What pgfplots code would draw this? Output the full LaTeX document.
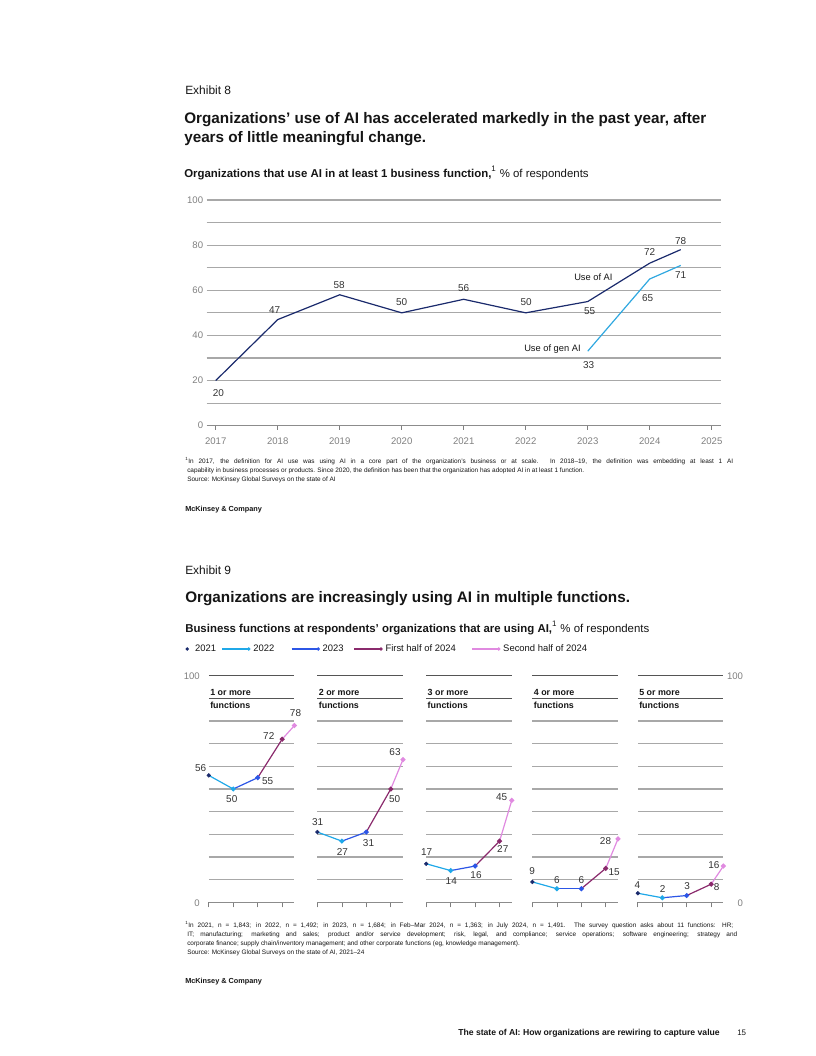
\documentclass[border=0pt]{standalone}
\usepackage{fontspec}
\setmainfont{Liberation Sans}
\usepackage{pgfplots}
\pgfplotsset{compat=1.18}
\definecolor{navy}{HTML}{1A2A6C}
\definecolor{genai}{HTML}{30A8E0}
\definecolor{c22}{HTML}{1FA8E8}
\definecolor{c23}{HTML}{2C56E6}
\definecolor{c24a}{HTML}{8A2A6C}
\definecolor{c24b}{HTML}{E08AE0}
\definecolor{gridc}{HTML}{A8A8A8}
\definecolor{darkl}{HTML}{555555}
\definecolor{axisc}{HTML}{8C8C8C}
\definecolor{tickc}{HTML}{7F7F7F}
\definecolor{labc}{HTML}{333333}
\definecolor{txtc}{HTML}{151515}
\newcommand\fsz[1]{\fontsize{#1}{#1}\selectfont}
\newcommand\lbl[4]{\node[lab, xshift=#3*0.75bp, yshift=#4*0.75bp] at (axis cs:#1) {#2};}
\tikzset{
  lab/.style={font=\fsz{7.5}, text=labc, inner sep=0pt, anchor=center},
  tx/.style={anchor=base west, inner sep=0pt, text=txtc},
  ptitle/.style={anchor=base west, inner sep=0pt, text=txtc, font=\bfseries\fsz{6.7}},
}
\pgfplotsset{
  /pgf/number format/assume math mode=true,
  panel/.style={anchor=south west, scale only axis, width=64.2bp, height=169.95bp,
    xmin=0, xmax=3.5, ymin=0, ymax=100, clip=false,
    axis x line*=bottom, axis y line*=left,
    x axis line style={-, draw=axisc, line width=0.5bp},
    y axis line style={draw=none},
    xtick={0,1,2,3}, xticklabels={},
    tick align=outside, major tick length=3.75bp,
    xtick style={draw=tickc, line width=0.5bp},
    ytick={10,20,...,80}, yticklabels={}, ytick style={draw=none},
    ymajorgrids, major grid style={draw=gridc, line width=0.9bp},
    extra y ticks={90,100}, extra y tick labels={},
    extra y tick style={ymajorgrids=true, major grid style={draw=darkl, line width=0.5bp}, major tick length=0pt},
  },
  seg/.style={line width=0.9bp, mark=*, mark size=1.4bp, mark indices={2}, forget plot},
}
\newcommand\panelplots[5]{%
  \addplot[c22, seg, mark options={draw=none, fill=c22}] coordinates {(0,#1)(1,#2)};
  \addplot[c23, seg, mark options={draw=none, fill=c23}] coordinates {(1,#2)(2,#3)};
  \addplot[c24a, seg, mark options={draw=none, fill=c24a}] coordinates {(2,#3)(3,#4)};
  \addplot[c24b, seg, mark options={draw=none, fill=c24b}] coordinates {(3,#4)(3.5,#5)};
  \addplot[navy, only marks, mark=*, mark size=1.4bp, mark options={draw=none, fill=navy}, forget plot] coordinates {(0,#1)};
}
\begin{document}
\begin{tikzpicture}
\useasboundingbox (0,0) rectangle (612bp,-792bp);

% ---------------- Exhibit 8 chart -----------------
\begin{axis}[
  at={(155.025bp,-319.275bp)}, anchor=south west, scale only axis,
  width=385.5bp, height=169.3bp, clip=false,
  xmin=2016.855, xmax=2025.145, ymin=0, ymax=100,
  axis x line*=bottom, axis y line*=left,
  x axis line style={-, draw=axisc, line width=0.5bp},
  y axis line style={draw=none},
  xtick={2017,2018,2019,2020,2021,2022,2023,2024,2025},
  xticklabels={2017,2018,2019,2020,2021,2022,2023,2024,2025},
  xtick style={draw=tickc, line width=0.5bp},
  tick align=outside, major tick length=3bp,
  ytick={10,20,...,100},
  yticklabels={,20,,40,,60,,80,,100},
  extra y ticks={0}, extra y tick labels={0},
  extra y tick style={ymajorgrids=false, major tick length=0pt, yticklabel style={xshift=-3bp}},
  ytick style={draw=none},
  ymajorgrids, major grid style={draw=gridc, line width=0.8bp},
  ticklabel style={font=\fsz{7.2}, text=tickc, inner sep=0pt},
  xticklabel style={anchor=north, yshift=-5.75bp},
  yticklabel style={anchor=east, xshift=0.5bp},
]
\addplot[navy, line width=0.9bp] coordinates {(2017,20)(2018,47)(2019,58)(2020,50)(2021,56)(2022,50)(2023,55)(2024,72)(2024.5,78)};
\addplot[genai, line width=0.9bp] coordinates {(2023,33)(2024,65)(2024.5,71)};
\lbl{2017,20}{20}{2.6}{-12.3}
\lbl{2018,47}{47}{-3}{10}
\lbl{2019,58}{58}{-0.5}{10}
\lbl{2020,50}{50}{0}{10.4}
\lbl{2021,56}{56}{0}{11}
\lbl{2022,50}{50}{0.5}{10.4}
\lbl{2023,55}{55}{2}{-10}
\lbl{2024,72}{72}{0}{10.7}
\lbl{2024.5,78}{78}{0}{9}
\lbl{2024.5,71}{71}{0}{-10}
\lbl{2024,65}{65}{-2}{-18.8}
\lbl{2023,33}{33}{1}{-13.6}
\end{axis}

% ---------------- Exhibit 9 panels -----------------
\begin{axis}[panel, at={(156.6bp,-676.725bp)},
  legend style={at={(-0.2745,1.1178)}, anchor=west, draw=none, fill=none,
    inner sep=0pt, outer sep=0pt, legend columns=5, font=\fsz{7.1}, text=txtc,
    /tikz/every even column/.append style={column sep=9.5bp},
    /tikz/every odd column/.append style={column sep=2bp},
    nodes={inner sep=0pt}},
  legend cell align=left]
\addlegendimage{legend image code/.code={\fill[navy, draw=none] (0bp,0bp) circle (1.4bp); \path[draw=none] (3bp,0bp) -- (4bp,0bp);}}
\addlegendentry{2021\kern-5.5bp}
\addlegendimage{legend image code/.code={\draw[c22, line width=0.9bp, -] (0bp,0bp) -- (20bp,0bp); \fill[c22, draw=none] (20bp,0bp) circle (1.4bp);}}
\addlegendentry{2022\kern3bp}
\addlegendimage{legend image code/.code={\draw[c23, line width=0.9bp, -] (0bp,0bp) -- (20bp,0bp); \fill[c23, draw=none] (20bp,0bp) circle (1.4bp);}}
\addlegendentry{2023\kern-2bp}
\addlegendimage{legend image code/.code={\draw[c24a, line width=0.9bp, -] (0bp,0bp) -- (20bp,0bp); \fill[c24a, draw=none] (20bp,0bp) circle (1.4bp);}}
\addlegendentry{First half of 2024\kern2.25bp}
\addlegendimage{legend image code/.code={\draw[c24b, line width=0.9bp, -] (0bp,0bp) -- (20bp,0bp); \fill[c24b, draw=none] (20bp,0bp) circle (1.4bp);}}
\addlegendentry{Second half of 2024}
\panelplots{56}{50}{55}{72}{78}
\lbl{0,56}{56}{-8.1}{7.7}
\lbl{1,50}{50}{-1.5}{-10.3}
\lbl{2,55}{55}{10}{-3.3}
\lbl{3,72}{72}{-13.4}{3.1}
\lbl{3.5,78}{78}{1.1}{12.2}
\node[ptitle, xshift=0.9bp, yshift=1.8bp] at (axis cs:0,90) {1 or more};
\node[ptitle, xshift=0.9bp, yshift=-7.4bp] at (axis cs:0,90) {functions};
\node[anchor=east, inner sep=0pt, font=\fsz{7.2}, text=tickc, xshift=-6.6bp] at (axis cs:0,100) {100};
\node[anchor=east, inner sep=0pt, font=\fsz{7.2}, text=tickc, xshift=-6.6bp, yshift=-0.75bp] at (axis cs:0,0) {0};
\end{axis}

\begin{axis}[panel, at={(238.05bp,-676.725bp)}]
\panelplots{31}{27}{31}{50}{63}
\lbl{0,31}{31}{0.3}{9.7}
\lbl{1,27}{27}{0.6}{-10.7}
\lbl{2,31}{31}{2.2}{-10.7}
\lbl{3,50}{50}{3.9}{-10.3}
\lbl{3.5,63}{63}{-8}{7}
\node[ptitle, xshift=0.9bp, yshift=1.8bp] at (axis cs:0,90) {2 or more};
\node[ptitle, xshift=0.9bp, yshift=-7.4bp] at (axis cs:0,90) {functions};
\end{axis}

\begin{axis}[panel, at={(319.65bp,-676.725bp)}]
\panelplots{17}{14}{16}{27}{45}
\lbl{0,17}{17}{0.5}{11.3}
\lbl{1,14}{14}{0.6}{-10.1}
\lbl{2,16}{16}{0.9}{-9.3}
\lbl{3,27}{27}{3.2}{-7.6}
\lbl{3.5,45}{45}{-10.1}{3.6}
\node[ptitle, xshift=0.9bp, yshift=1.8bp] at (axis cs:0,90) {3 or more};
\node[ptitle, xshift=0.9bp, yshift=-7.4bp] at (axis cs:0,90) {functions};
\end{axis}

\begin{axis}[panel, at={(399.3bp,-676.725bp)}]
\panelplots{9}{6}{6}{15}{28}
\lbl{0,9}{9}{-0.2}{10.9}
\lbl{1,6}{6}{0}{9}
\lbl{2,6}{6}{0}{9}
\lbl{3,15}{15}{8.4}{-4.2}
\lbl{3.5,28}{28}{-12.5}{-1.9}
\node[ptitle, xshift=0.9bp, yshift=1.8bp] at (axis cs:0,90) {4 or more};
\node[ptitle, xshift=0.9bp, yshift=-7.4bp] at (axis cs:0,90) {functions};
\end{axis}

\begin{axis}[panel, at={(478.35bp,-676.725bp)}]
\panelplots{4}{2}{3}{8}{16}
\lbl{0,4}{4}{-0.3}{8.2}
\lbl{1,2}{2}{0.5}{9}
\lbl{2,3}{3}{0.5}{9.2}
\lbl{3,8}{8}{5.5}{-2.8}
\lbl{3.5,16}{16}{-9.6}{1}
\node[ptitle, xshift=0.9bp, yshift=1.8bp] at (axis cs:0,90) {5 or more};
\node[ptitle, xshift=0.9bp, yshift=-7.4bp] at (axis cs:0,90) {functions};
\node[anchor=east, inner sep=0pt, font=\fsz{7.2}, text=tickc, xshift=14.9bp] at (axis cs:3.5,100) {100};
\node[anchor=east, inner sep=0pt, font=\fsz{7.2}, text=tickc, xshift=14.9bp, yshift=-0.75bp] at (axis cs:3.5,0) {0};
\end{axis}

% ---------------- texts (pixel coordinates) -----------------
\begin{scope}[x=0.75bp, y=-0.75bp]
\node[tx, font=\fsz{9}] at (185,94) {Exhibit 8};
\node[tx, font=\bfseries\fsz{11.5}] at (184,123.5) {Organizations’ use of AI has accelerated markedly in the past year, after};
\node[tx, font=\bfseries\fsz{11.5}] at (184,142.5) {years of little meaningful change.};
\node[tx, font=\fsz{8.6}] at (184,177) {\textbf{Organizations that use AI in at least 1 business function,}\textsuperscript{1} \% of respondents};
\node[tx, font=\fsz{7}] at (574,280) {Use of AI};
\node[tx, font=\fsz{7}] at (524,351) {Use of gen AI};
\node[tx, font=\fsz{4.85}] at (185,463.5) {\makebox[411bp][s]{\textsuperscript{1}In 2017, the definition for AI use was using AI in a core part of the organization’s business or at scale. In 2018–19, the definition was embedding at least 1 AI}};
\node[tx, font=\fsz{4.85}] at (187,472.5) {capability in business processes or products. Since 2020, the definition has been that the organization has adopted AI in at least 1 function.};
\node[tx, font=\fsz{4.85}] at (187,481.5) {Source: McKinsey Global Surveys on the state of AI};
\node[tx, font=\bfseries\fsz{5.5}] at (185,511) {McKinsey \& Company};

\node[tx, font=\fsz{9}] at (185,574) {Exhibit 9};
\node[tx, font=\bfseries\fsz{11.5}] at (185,602.5) {Organizations are increasingly using AI in multiple functions.};
\node[tx, font=\fsz{8.6}] at (185,632) {\textbf{Business functions at respondents’ organizations that are using AI,}\textsuperscript{1} \% of respondents};

\node[tx, font=\fsz{4.85}] at (185,927.5) {\makebox[411bp][s]{\textsuperscript{1}In 2021, n = 1,843; in 2022, n = 1,492; in 2023, n = 1,684; in Feb–Mar 2024, n = 1,363; in July 2024, n = 1,491. The survey question asks about 11 functions: HR;}};
\node[tx, font=\fsz{4.85}] at (187,936.5) {\makebox[412.5bp][s]{IT; manufacturing; marketing and sales; product and/or service development; risk, legal, and compliance; service operations; software engineering; strategy and}};
\node[tx, font=\fsz{4.85}] at (187,945.5) {corporate finance; supply chain/inventory management; and other corporate functions (eg, knowledge management).};
\node[tx, font=\fsz{4.85}] at (187,954.5) {Source: McKinsey Global Surveys on the state of AI, 2021–24};
\node[tx, font=\bfseries\fsz{5.5}] at (185,983) {McKinsey \& Company};

\node[tx, font=\bfseries\fsz{6.5}] at (458,1035) {The state of AI: How organizations are rewiring to capture value};
\node[tx, font=\fsz{6}] at (737,1035) {15};
\end{scope}
\end{tikzpicture}
\end{document}
